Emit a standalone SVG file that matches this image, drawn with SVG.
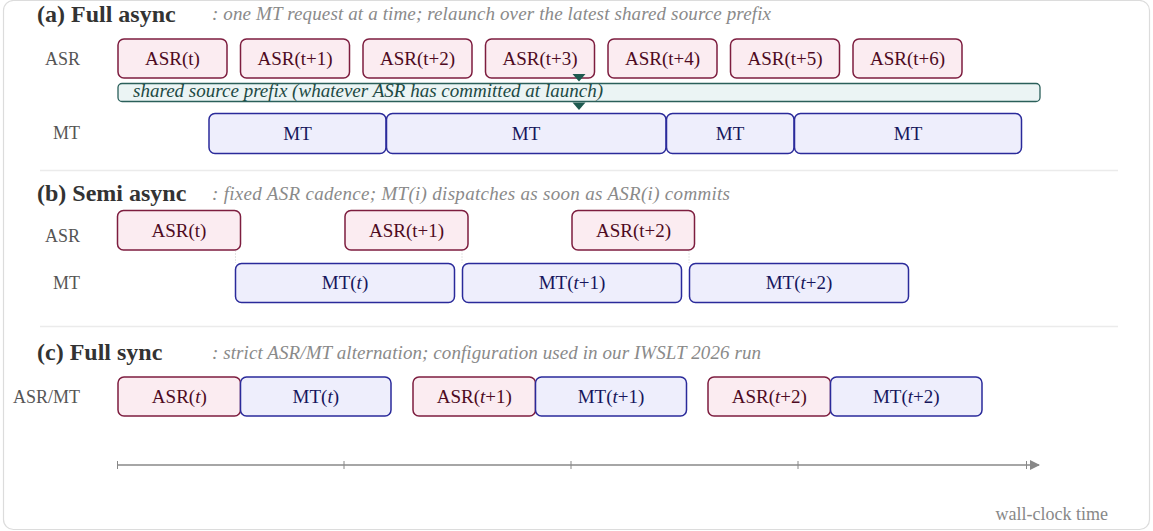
<svg xmlns="http://www.w3.org/2000/svg" width="1153" height="531" viewBox="0 0 1153 531">
<style>
text{font-family:"Liberation Serif","Times New Roman",serif}
.title{font-size:24px;font-weight:bold;fill:#333}
.sub{font-size:19px;font-style:italic;fill:#8a8a8a}
.lbl{font-size:18px;fill:#555;text-anchor:end}
.asr rect{fill:#fbecf1;stroke:#7d1d3f;stroke-width:1.5}
.asr text{fill:#4e0a22;font-size:19px;text-anchor:middle}
.mt rect{fill:#eeeefc;stroke:#2a2a9a;stroke-width:1.5}
.mt text{fill:#16165c;font-size:19px;text-anchor:middle}
.it{font-style:italic}
.sep{stroke:#ebebeb;stroke-width:1.5}
.dot{stroke:#c8c8c8;stroke-width:1;stroke-dasharray:1 2}
.axis{stroke:#888;stroke-width:1.5;fill:none}
.tick{stroke:#888;stroke-width:1}
</style>
<defs>
<marker id="arr" viewBox="0 0 10 10" refX="9" refY="5" markerWidth="10" markerHeight="10" markerUnits="userSpaceOnUse" orient="auto">
<path d="M0,0 L10,5 L0,10 z" fill="#888"/>
</marker>
</defs>
<rect x="3.5" y="0.5" width="1146" height="529" rx="10" fill="#fff" stroke="#dcdcdc" stroke-width="1.2"/>

<!-- (a) Full async -->
<g id="sec-a">
<text class="title" x="37" y="21.5">(a) Full async</text>
<text class="sub" x="212" y="20" textLength="559" lengthAdjust="spacing">: one MT request at a time; relaunch over the latest shared source prefix</text>
<text class="lbl" x="80" y="65">ASR</text>
<text class="lbl" x="80" y="138.5">MT</text>
</g>
<g id="a-asr0" class="asr"><rect x="118" y="39" width="109" height="39" rx="6"/><text x="172.5" y="64.5">ASR(t)</text></g>
<g id="a-asr1" class="asr"><rect x="240.5" y="39" width="109" height="39" rx="6"/><text x="295" y="64.5">ASR(t+1)</text></g>
<g id="a-asr2" class="asr"><rect x="363" y="39" width="109" height="39" rx="6"/><text x="417.5" y="64.5">ASR(t+2)</text></g>
<g id="a-asr3" class="asr"><rect x="485.5" y="39" width="109" height="39" rx="6"/><text x="540" y="64.5">ASR(t+3)</text></g>
<g id="a-asr4" class="asr"><rect x="608" y="39" width="109" height="39" rx="6"/><text x="662.5" y="64.5">ASR(t+4)</text></g>
<g id="a-asr5" class="asr"><rect x="730.5" y="39" width="109" height="39" rx="6"/><text x="785" y="64.5">ASR(t+5)</text></g>
<g id="a-asr6" class="asr"><rect x="853" y="39" width="109" height="39" rx="6"/><text x="907.5" y="64.5">ASR(t+6)</text></g>
<g id="a-prefix">
<rect x="118" y="83.5" width="922" height="18" rx="4" fill="#ebf4f4" stroke="#2a5f5a" stroke-width="1.3"/>
<text x="133" y="96.5" font-size="19" font-style="italic" fill="#1d4a44" textLength="470" lengthAdjust="spacing">shared source prefix (whatever ASR has committed at launch)</text>
<path d="M572.5,74 L585.5,74 L579,81.5 z" fill="#1e5a50"/>
<path d="M572.5,102.5 L585.5,102.5 L579,110 z" fill="#1e5a50"/>
</g>
<g id="a-mt0" class="mt"><rect x="209" y="113.5" width="177" height="40" rx="6"/><text x="297.5" y="139.5">MT</text></g>
<g id="a-mt1" class="mt"><rect x="386.5" y="113.5" width="279.5" height="40" rx="6"/><text x="526" y="139.5">MT</text></g>
<g id="a-mt2" class="mt"><rect x="666.5" y="113.5" width="127.5" height="40" rx="6"/><text x="730" y="139.5">MT</text></g>
<g id="a-mt3" class="mt"><rect x="794.5" y="113.5" width="227" height="40" rx="6"/><text x="908" y="139.5">MT</text></g>

<line class="sep" x1="40" y1="170.5" x2="1118" y2="170.5"/>

<!-- (b) Semi async -->
<g id="sec-b">
<text class="title" x="37" y="200.5">(b) Semi async</text>
<text class="sub" x="212" y="200" textLength="518" lengthAdjust="spacing">: fixed ASR cadence; MT(<tspan>i</tspan>) dispatches as soon as ASR(i) commits</text>
<text class="lbl" x="80" y="241.5">ASR</text>
<text class="lbl" x="80" y="288.5">MT</text>
</g>
<g id="connectors">
<line class="dot" x1="235.5" y1="250.5" x2="235.5" y2="263"/>
<line class="dot" x1="462" y1="250.5" x2="462" y2="263"/>
<line class="dot" x1="689" y1="250.5" x2="689" y2="263"/>
</g>
<g id="b-asr0" class="asr"><rect x="117.5" y="210.5" width="123" height="39.5" rx="6"/><text x="179" y="236.5">ASR(t)</text></g>
<g id="b-asr1" class="asr"><rect x="345" y="210.5" width="123" height="39.5" rx="6"/><text x="406.5" y="236.5">ASR(t+1)</text></g>
<g id="b-asr2" class="asr"><rect x="572" y="210.5" width="122.5" height="39.5" rx="6"/><text x="633.5" y="236.5">ASR(t+2)</text></g>
<g id="b-mt0" class="mt"><rect x="235.5" y="263.5" width="219" height="39" rx="6"/><text x="345" y="288.5">MT(<tspan class="it">t</tspan>)</text></g>
<g id="b-mt1" class="mt"><rect x="462.5" y="263.5" width="219" height="39" rx="6"/><text x="572" y="288.5">MT(<tspan class="it">t</tspan>+1)</text></g>
<g id="b-mt2" class="mt"><rect x="689.5" y="263.5" width="219" height="39" rx="6"/><text x="799" y="288.5">MT(<tspan class="it">t</tspan>+2)</text></g>

<line class="sep" x1="40" y1="326.5" x2="1118" y2="326.5"/>

<!-- (c) Full sync -->
<g id="sec-c">
<text class="title" x="37" y="360">(c) Full sync</text>
<text class="sub" x="212" y="359" textLength="549" lengthAdjust="spacing">: strict ASR/MT alternation; configuration used in our IWSLT 2026 run</text>
<text class="lbl" x="80" y="402.5">ASR/MT</text>
</g>
<g id="c-asr0" class="asr"><rect x="118" y="377" width="122.5" height="39" rx="6"/><text x="179.3" y="402.5">ASR(<tspan class="it">t</tspan>)</text></g>
<g id="c-mt0" class="mt"><rect x="240.5" y="377" width="150.5" height="39" rx="6"/><text x="315.8" y="402.5">MT(<tspan class="it">t</tspan>)</text></g>
<g id="c-asr1" class="asr"><rect x="413" y="377" width="122.5" height="39" rx="6"/><text x="474.3" y="402.5">ASR(<tspan class="it">t</tspan>+1)</text></g>
<g id="c-mt1" class="mt"><rect x="535.5" y="377" width="151" height="39" rx="6"/><text x="611" y="402.5">MT(<tspan class="it">t</tspan>+1)</text></g>
<g id="c-asr2" class="asr"><rect x="708" y="377" width="122.5" height="39" rx="6"/><text x="769.3" y="402.5">ASR(<tspan class="it">t</tspan>+2)</text></g>
<g id="c-mt2" class="mt"><rect x="830.5" y="377" width="151.5" height="39" rx="6"/><text x="906.3" y="402.5">MT(<tspan class="it">t</tspan>+2)</text></g>

<!-- time axis -->
<g id="axis">
<line class="axis" x1="117.5" y1="465" x2="1039" y2="465" marker-end="url(#arr)"/>
<line class="tick" x1="117.5" y1="461" x2="117.5" y2="469"/>
<line class="tick" x1="344" y1="461" x2="344" y2="469"/>
<line class="tick" x1="571" y1="461" x2="571" y2="469"/>
<line class="tick" x1="798" y1="461" x2="798" y2="469"/>
<line class="tick" x1="1026.5" y1="461" x2="1026.5" y2="469"/>
<text x="1108" y="520" font-size="18" fill="#888" text-anchor="end">wall-clock time</text>
</g>
</svg>
